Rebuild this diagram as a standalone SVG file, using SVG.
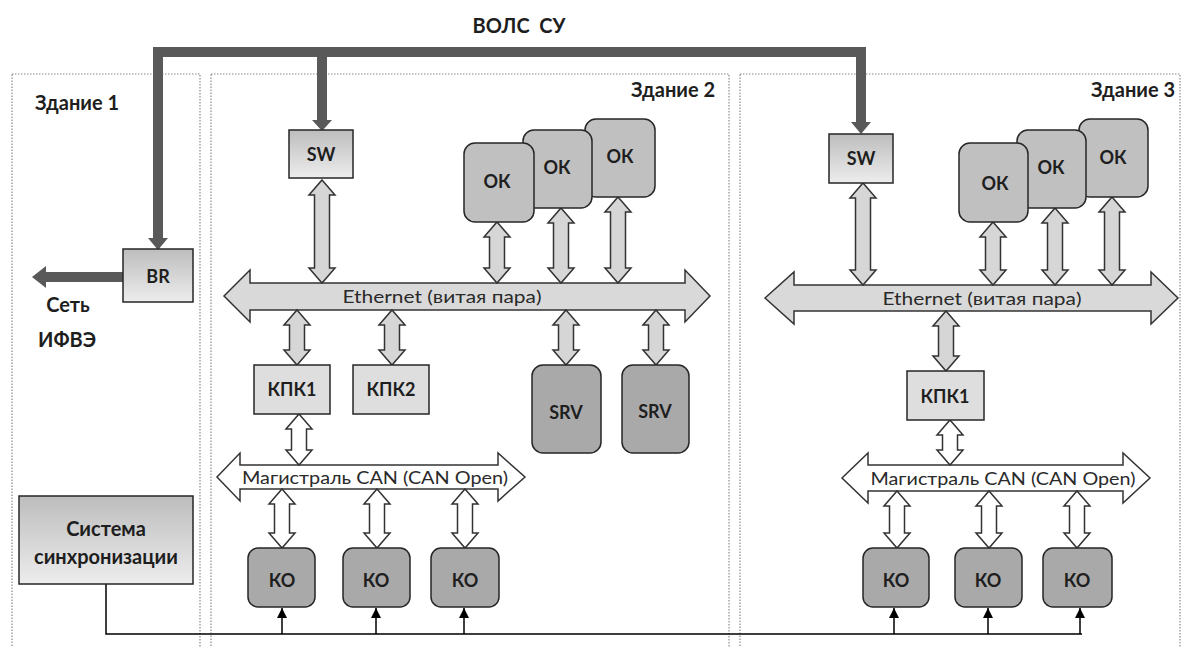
<svg xmlns="http://www.w3.org/2000/svg" width="1182" height="647" viewBox="0 0 1182 647">
<defs>
<linearGradient id="g" x1="0" y1="0" x2="0" y2="1">
<stop offset="0" stop-color="#bdbdbd"/>
<stop offset="1" stop-color="#ededed"/>
</linearGradient>
<marker id="up" markerWidth="10" markerHeight="10" refX="10" refY="5" orient="auto" markerUnits="userSpaceOnUse" viewBox="0 0 10 10">
<path d="M0,0 L10,5 L0,10 Z" fill="#000"/>
</marker>
<style>
.frame{fill:none;stroke:#8a8a8a;stroke-width:1.2;stroke-dasharray:1.5 1.5}
.fiber{fill:none;stroke:#595959;stroke-width:10;stroke-linejoin:miter}
.fh{fill:#595959}
.box{stroke:#262626;stroke-width:1.5}
.grad{fill:url(#g)}
.lt{fill:#dedede}
.ok{fill:#c0c0c0}
.ko{fill:#a9a9a9}
.bus{fill:#d9d9d9;stroke:#333;stroke-width:1.5}
.can{fill:#fff;stroke:#333;stroke-width:1.5}
.dar{fill:#d6d6d6;stroke:#333;stroke-width:1.5}
.war{fill:#fff;stroke:#333;stroke-width:1.5}
.sync{fill:none;stroke:#000;stroke-width:1.5}
.t{font-family:Lato,"Liberation Sans",sans-serif;font-weight:bold;font-size:18px;fill:#1e1e1e;text-anchor:middle;dominant-baseline:central}
.h{font-size:20px}
.n{font-family:Lato,"Liberation Sans",sans-serif;font-weight:normal;font-size:17px;fill:#2a2a2a;text-anchor:middle;dominant-baseline:central}
</style>
</defs>
<rect width="1182" height="647" fill="#fff"/>

<g id="buildings">
<rect class="frame" x="12" y="74" width="188" height="590"/>
<rect class="frame" x="211" y="74" width="518" height="590"/>
<rect class="frame" x="740" y="74" width="440" height="590"/>
<text class="t h" x="77" y="102">Здание 1</text>
<text class="t h" x="673" y="89">Здание 2</text>
<text class="t h" x="1133" y="89">Здание 3</text>
<text class="t h" x="519" y="25" xml:space="preserve">ВОЛС  СУ</text>
</g>

<g id="connectors">
<path class="fiber" d="M158,240 L158,52 L861,52 L861,124"/>
<path class="fiber" d="M322,52 L322,120"/>
<polygon class="fh" points="148,238 168,238 158,250"/>
<polygon class="fh" points="312,120 332,120 322,131"/>
<polygon class="fh" points="851,122 871,122 861,134"/>
<path class="fiber" d="M123,277 L44,277"/>
<polygon class="fh" points="46,266 46,288 32,277"/>

<path class="bus" d="M224,296 L250,270 L250,283 L685,283 L685,270 L710,296 L685,322 L685,310 L250,310 L250,322 Z"/>
<path class="bus" d="M765,298 L794,272 L794,285 L1151,285 L1151,272 L1178,298 L1151,324 L1151,311 L794,311 L794,324 Z"/>
<path class="can" d="M217,477 L240,453 L240,465 L498,465 L498,453 L525,477 L498,501 L498,489 L240,489 L240,501 Z"/>
<path class="can" d="M842,478 L868,453 L868,465 L1123,465 L1123,453 L1150,478 L1123,503 L1123,491 L868,491 L868,503 Z"/>
<text class="n" x="442" y="296" textLength="199" lengthAdjust="spacingAndGlyphs">Ethernet (витая пара)</text>
<text class="n" x="982" y="298" textLength="199" lengthAdjust="spacingAndGlyphs">Ethernet (витая пара)</text>
<text class="n" x="375" y="477" textLength="266" lengthAdjust="spacingAndGlyphs">Магистраль CAN (CAN Open)</text>
<text class="n" x="1003" y="478" textLength="265" lengthAdjust="spacingAndGlyphs">Магистраль CAN (CAN Open)</text>

<path class="dar" d="M322,180 L335,195 L329.5,195 L329.5,268 L335,268 L322,283 L309,268 L314.5,268 L314.5,195 L309,195 Z"/>
<path class="dar" d="M497,222 L510,237 L504.5,237 L504.5,268 L510,268 L497,283 L484,268 L489.5,268 L489.5,237 L484,237 Z"/>
<path class="dar" d="M561,208 L574,223 L568.5,223 L568.5,268 L574,268 L561,283 L548,268 L553.5,268 L553.5,223 L548,223 Z"/>
<path class="dar" d="M618,197 L631,212 L625.5,212 L625.5,268 L631,268 L618,283 L605,268 L610.5,268 L610.5,212 L605,212 Z"/>
<path class="dar" d="M297,310 L310,325 L304.5,325 L304.5,350 L310,350 L297,365 L284,350 L289.5,350 L289.5,325 L284,325 Z"/>
<path class="dar" d="M392,310 L405,325 L399.5,325 L399.5,350 L405,350 L392,365 L379,350 L384.5,350 L384.5,325 L379,325 Z"/>
<path class="dar" d="M566,310 L579,325 L573.5,325 L573.5,350 L579,350 L566,365 L553,350 L558.5,350 L558.5,325 L553,325 Z"/>
<path class="dar" d="M656,310 L669,325 L663.5,325 L663.5,350 L669,350 L656,365 L643,350 L648.5,350 L648.5,325 L643,325 Z"/>
<path class="war" d="M299,414 L312,429 L306.5,429 L306.5,450 L312,450 L299,465 L286,450 L291.5,450 L291.5,429 L286,429 Z"/>
<path class="war" d="M282,489 L295,504 L289.5,504 L289.5,533 L295,533 L282,548 L269,533 L274.5,533 L274.5,504 L269,504 Z"/>
<path class="war" d="M377,489 L390,504 L384.5,504 L384.5,533 L390,533 L377,548 L364,533 L369.5,533 L369.5,504 L364,504 Z"/>
<path class="war" d="M465,489 L478,504 L472.5,504 L472.5,533 L478,533 L465,548 L452,533 L457.5,533 L457.5,504 L452,504 Z"/>

<path class="dar" d="M863,183 L876,198 L870.5,198 L870.5,270 L876,270 L863,285 L850,270 L855.5,270 L855.5,198 L850,198 Z"/>
<path class="dar" d="M993,222 L1006,237 L1000.5,237 L1000.5,270 L1006,270 L993,285 L980,270 L985.5,270 L985.5,237 L980,237 Z"/>
<path class="dar" d="M1055,208 L1068,223 L1062.5,223 L1062.5,270 L1068,270 L1055,285 L1042,270 L1047.5,270 L1047.5,223 L1042,223 Z"/>
<path class="dar" d="M1112,197 L1125,212 L1119.5,212 L1119.5,270 L1125,270 L1112,285 L1099,270 L1104.5,270 L1104.5,212 L1099,212 Z"/>
<path class="dar" d="M946,311 L959,326 L953.5,326 L953.5,356 L959,356 L946,371 L933,356 L938.5,356 L938.5,326 L933,326 Z"/>
<path class="war" d="M950,420 L963,435 L957.5,435 L957.5,450 L963,450 L950,465 L937,450 L942.5,450 L942.5,435 L937,435 Z"/>
<path class="war" d="M897,491 L910,506 L904.5,506 L904.5,533 L910,533 L897,548 L884,533 L889.5,533 L889.5,506 L884,506 Z"/>
<path class="war" d="M989,491 L1002,506 L996.5,506 L996.5,533 L1002,533 L989,548 L976,533 L981.5,533 L981.5,506 L976,506 Z"/>
<path class="war" d="M1077,491 L1090,506 L1084.5,506 L1084.5,533 L1090,533 L1077,548 L1064,533 L1069.5,533 L1069.5,506 L1064,506 Z"/>

<path class="sync" d="M106,584 L106,634 L1082,634"/>
<path class="sync" d="M282,634 L282,608" marker-end="url(#up)"/>
<path class="sync" d="M376,634 L376,608" marker-end="url(#up)"/>
<path class="sync" d="M464,634 L464,608" marker-end="url(#up)"/>
<path class="sync" d="M894,634 L894,608" marker-end="url(#up)"/>
<path class="sync" d="M988,634 L988,608" marker-end="url(#up)"/>
<path class="sync" d="M1080,634 L1080,608" marker-end="url(#up)"/>
</g>

<g id="br"><rect class="box grad" x="123" y="249" width="70" height="53"/><text class="t" x="158" y="276">BR</text></g>
<g id="net-ihep"><text class="t h" x="68" y="304">Сеть</text><text class="t h" x="67" y="339">ИФВЭ</text></g>
<g id="sync-system"><rect class="box grad" x="19" y="496" width="174" height="88"/><text class="t h" x="106" y="528">Система</text><text class="t h" x="106" y="556">синхронизации</text></g>

<g id="sw2"><rect class="box grad" x="289" y="130" width="64" height="48"/><text class="t" x="321" y="154">SW</text></g>
<g id="ok2-3"><rect class="box ok" x="585" y="119" width="70" height="78" rx="11"/><text class="t" x="620" y="156">ОК</text></g>
<g id="ok2-2"><rect class="box ok" x="523" y="130" width="69" height="78" rx="11"/><text class="t" x="557" y="167">ОК</text></g>
<g id="ok2-1"><rect class="box ok" x="464" y="143" width="70" height="79" rx="11"/><text class="t" x="497" y="181">ОК</text></g>
<g id="kpk2-1"><rect class="box lt" x="254" y="365" width="76" height="49"/><text class="t" x="292" y="389">КПК1</text></g>
<g id="kpk2-2"><rect class="box lt" x="353" y="365" width="76" height="49"/><text class="t" x="391" y="389">КПК2</text></g>
<g id="srv2-1"><rect class="box ko" x="532" y="365" width="69" height="88" rx="11"/><text class="t" x="566" y="412">SRV</text></g>
<g id="srv2-2"><rect class="box ko" x="622" y="365" width="67" height="88" rx="11"/><text class="t" x="655" y="411">SRV</text></g>
<g id="ko2-1"><rect class="box ko" x="248" y="548" width="67" height="59" rx="10"/><text class="t" x="282" y="580">КО</text></g>
<g id="ko2-2"><rect class="box ko" x="343" y="548" width="67" height="59" rx="10"/><text class="t" x="376" y="580">КО</text></g>
<g id="ko2-3"><rect class="box ko" x="431" y="548" width="68" height="59" rx="10"/><text class="t" x="465" y="580">КО</text></g>

<g id="sw3"><rect class="box grad" x="829" y="134" width="64" height="49"/><text class="t" x="861" y="158">SW</text></g>
<g id="ok3-3"><rect class="box ok" x="1079" y="119" width="69" height="78" rx="11"/><text class="t" x="1113" y="157" font-weight="normal">ОК</text></g>
<g id="ok3-2"><rect class="box ok" x="1017" y="130" width="69" height="78" rx="11"/><text class="t" x="1051" y="167">ОК</text></g>
<g id="ok3-1"><rect class="box ok" x="959" y="143" width="69" height="79" rx="11"/><text class="t" x="995" y="183">ОК</text></g>
<g id="kpk3-1"><rect class="box lt" x="907" y="371" width="77" height="49"/><text class="t" x="945" y="396">КПК1</text></g>
<g id="ko3-1"><rect class="box ko" x="863" y="548" width="66" height="59" rx="10"/><text class="t" x="896" y="580">КО</text></g>
<g id="ko3-2"><rect class="box ko" x="955" y="548" width="67" height="59" rx="10"/><text class="t" x="988" y="580">КО</text></g>
<g id="ko3-3"><rect class="box ko" x="1043" y="548" width="69" height="59" rx="10"/><text class="t" x="1077" y="580">КО</text></g>
</svg>
